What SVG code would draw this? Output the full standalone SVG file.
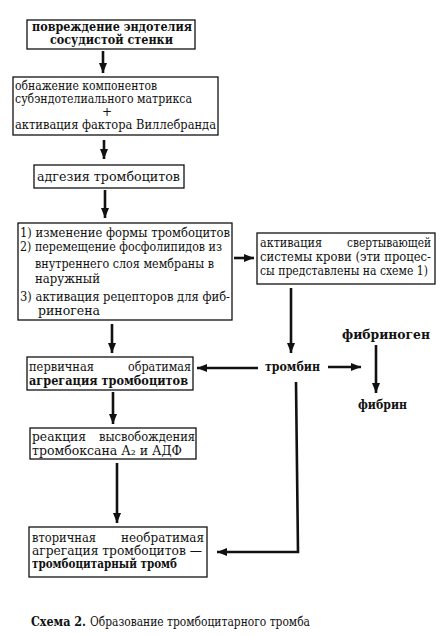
<svg xmlns="http://www.w3.org/2000/svg" width="443" height="636" viewBox="0 0 443 636">
<style>
.box{fill:#fff;stroke:#111;stroke-width:1.3}
text{font-family:"DejaVu Serif","Liberation Serif",serif;font-size:12px;fill:#111}
.b{font-weight:bold}
.c{text-anchor:middle}
.e{text-anchor:end}
.conn{stroke:#111;stroke-width:2.6;fill:none}
</style>
<defs>
<marker id="ah" markerUnits="userSpaceOnUse" viewBox="0 0 10 8" refX="10" refY="4" markerWidth="10" markerHeight="8" orient="auto">
<path d="M0,0 L10,4 L0,8 z" fill="#111"/>
</marker>
</defs>
<rect width="443" height="636" fill="#fff"/>
<g id="connectors">
<line class="conn" x1="103" y1="51" x2="103" y2="73" marker-end="url(#ah)"/>
<line class="conn" x1="104" y1="140" x2="104" y2="159" marker-end="url(#ah)"/>
<line class="conn" x1="105" y1="190" x2="105" y2="218" marker-end="url(#ah)"/>
<line class="conn" x1="234" y1="258" x2="254" y2="258" marker-end="url(#ah)"/>
<line class="conn" x1="291" y1="288" x2="291" y2="353" marker-end="url(#ah)"/>
<line class="conn" x1="328" y1="367" x2="361" y2="367" marker-end="url(#ah)"/>
<line class="conn" x1="376" y1="345" x2="376" y2="393" marker-end="url(#ah)"/>
<line class="conn" x1="258" y1="368" x2="197" y2="368" marker-end="url(#ah)"/>
<line class="conn" x1="112" y1="324" x2="112" y2="353" marker-end="url(#ah)"/>
<line class="conn" x1="113" y1="392" x2="113" y2="424" marker-end="url(#ah)"/>
<line class="conn" x1="117" y1="463" x2="117" y2="523" marker-end="url(#ah)"/>
<polyline class="conn" points="296,382 298,552 217,552" marker-end="url(#ah)"/>
</g>
<g id="n1">
<rect class="box" x="27" y="20" width="168" height="29"/>
<text class="b" x="32" y="31" textLength="160" lengthAdjust="spacingAndGlyphs">повреждение эндотелия</text>
<text class="b" x="50" y="44" textLength="123" lengthAdjust="spacingAndGlyphs">сосудистой стенки</text>
</g>
<g id="n2">
<rect class="box" x="13" y="77" width="205" height="58"/>
<text x="15" y="90" textLength="142" lengthAdjust="spacingAndGlyphs">обнажение компонентов</text>
<text x="15" y="103" textLength="177" lengthAdjust="spacingAndGlyphs">субэндотелиального матрикса</text>
<text class="c" x="107" y="116">+</text>
<text x="15" y="129" textLength="201" lengthAdjust="spacingAndGlyphs">активация фактора Виллебранда</text>
</g>
<g id="n3">
<rect class="box" x="34" y="165" width="150" height="23"/>
<text x="37" y="181" textLength="143" lengthAdjust="spacingAndGlyphs">адгезия тромбоцитов</text>
</g>
<g id="n4">
<rect class="box" x="18" y="223" width="214" height="97"/>
<text x="20" y="237" textLength="210" lengthAdjust="spacingAndGlyphs">1) изменение формы тромбоцитов</text>
<text x="20" y="251" textLength="202" lengthAdjust="spacingAndGlyphs">2) перемещение фосфолипидов из</text>
<text x="35" y="268" textLength="179" lengthAdjust="spacingAndGlyphs">внутреннего слоя мембраны  в</text>
<text x="35" y="283" textLength="65" lengthAdjust="spacingAndGlyphs">наружный</text>
<text x="20" y="301" textLength="210" lengthAdjust="spacingAndGlyphs">3) активация рецепторов для фиб-</text>
<text x="38" y="315" textLength="62" lengthAdjust="spacingAndGlyphs">риногена</text>
</g>
<g id="n5">
<rect class="box" x="257" y="233" width="178" height="51"/>
<text x="260" y="247" textLength="62" lengthAdjust="spacingAndGlyphs">активация</text>
<text class="e" x="431" y="247" textLength="84" lengthAdjust="spacingAndGlyphs">свертывающей</text>
<text x="260" y="261" textLength="171" lengthAdjust="spacingAndGlyphs">системы крови (эти процес-</text>
<text x="260" y="275" font-size="11.5" textLength="168" lengthAdjust="spacingAndGlyphs">сы представлены на схеме 1)</text>
</g>
<g id="n6">
<rect class="box" x="27" y="357" width="166" height="33"/>
<text x="29" y="371" textLength="65" lengthAdjust="spacingAndGlyphs">первичная</text>
<text class="e" x="191" y="371" textLength="63" lengthAdjust="spacingAndGlyphs">обратимая</text>
<text class="b" x="29" y="385" textLength="159" lengthAdjust="spacingAndGlyphs">агрегация тромбоцитов</text>
</g>
<g id="n7">
<rect class="box" x="30" y="428" width="166" height="31"/>
<text x="32" y="441" textLength="54" lengthAdjust="spacingAndGlyphs">реакция</text>
<text class="e" x="195" y="441" textLength="96" lengthAdjust="spacingAndGlyphs">высвобождения</text>
<text x="32" y="455" textLength="150" lengthAdjust="spacingAndGlyphs">тромбоксана А₂ и АДФ</text>
</g>
<g id="n8">
<rect class="box" x="29" y="527" width="178" height="50"/>
<text x="32" y="542" textLength="64" lengthAdjust="spacingAndGlyphs">вторичная</text>
<text class="e" x="204" y="542" textLength="83" lengthAdjust="spacingAndGlyphs">необратимая</text>
<text x="32" y="555" textLength="170" lengthAdjust="spacingAndGlyphs">агрегация тромбоцитов —</text>
<text class="b" x="32" y="568" textLength="145" lengthAdjust="spacingAndGlyphs">тромбоцитарный тромб</text>
</g>
<g id="n9">
<text class="b" x="265" y="371" textLength="55" lengthAdjust="spacingAndGlyphs">тромбин</text>
</g>
<g id="n10">
<text class="b" x="342" y="339" textLength="88" lengthAdjust="spacingAndGlyphs">фибриноген</text>
</g>
<g id="n11">
<text class="b" x="358" y="409" textLength="49" lengthAdjust="spacingAndGlyphs">фибрин</text>
</g>
<g id="caption">
<text class="b" x="31" y="626" font-size="10.5" textLength="55" lengthAdjust="spacingAndGlyphs">Схема 2.</text>
<text x="90" y="626" font-size="10.5" textLength="220" lengthAdjust="spacingAndGlyphs">Образование тромбоцитарного тромба</text>
</g>
</svg>
